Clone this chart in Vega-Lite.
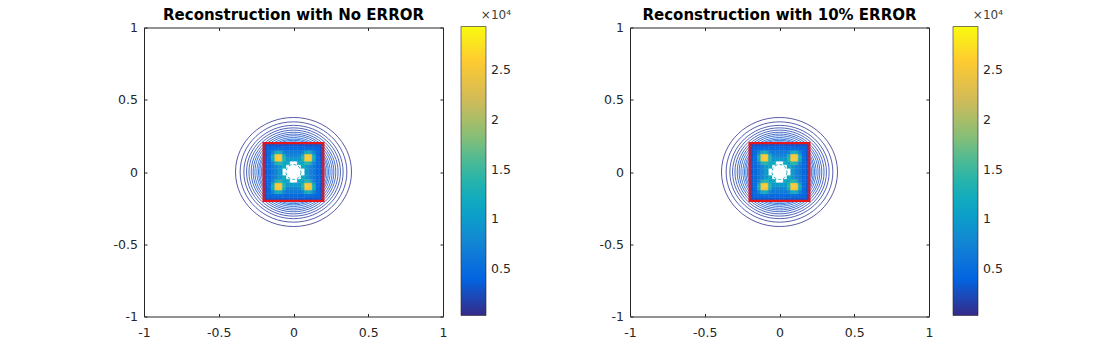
{
"$schema": "https://vega.github.io/schema/vega-lite/v6.json",
"padding": {"left": 112, "top": 6.5, "right": 5, "bottom": 5},
"config": {"font": "DejaVu Sans", "view": {"stroke": "#262626", "strokeWidth": 1}},
"datasets": {
"contours": [
{"x":0,"y":0,"d":0.776,"v":700},{"x":0,"y":0,"d":0.714,"v":1000},{"x":0,"y":0,"d":0.664,"v":1300},{"x":0,"y":0,"d":0.628,"v":1600},{"x":0,"y":0,"d":0.596,"v":1900},{"x":0,"y":0,"d":0.566,"v":2200},{"x":0,"y":0,"d":0.54,"v":2500},{"x":0,"y":0,"d":0.516,"v":2800},{"x":0,"y":0,"d":0.49,"v":3100},{"x":0,"y":0,"d":0.468,"v":3400},{"x":0,"y":0,"d":0.45,"v":3700},{"x":0,"y":0,"d":0.43,"v":4000},{"x":0,"y":0,"d":0.41,"v":4300}
],
"ring": [{"x":0,"y":0,"d":0.1,"v":12000}],
"box": [{"x":-0.2,"x2":0.2,"y":-0.2,"y2":0.2}],
"heat": [
{"x":-0.2,"x2":-0.175,"y":-0.2,"y2":-0.175,"v":2800},{"x":-0.175,"x2":-0.15,"y":-0.2,"y2":-0.175,"v":3200},{"x":-0.15,"x2":-0.125,"y":-0.2,"y2":-0.175,"v":3300},{"x":-0.125,"x2":-0.1,"y":-0.2,"y2":-0.175,"v":3300},{"x":-0.1,"x2":-0.075,"y":-0.2,"y2":-0.175,"v":3300},{"x":-0.075,"x2":-0.05,"y":-0.2,"y2":-0.175,"v":3300},{"x":-0.05,"x2":-0.025,"y":-0.2,"y2":-0.175,"v":3300},{"x":-0.025,"x2":0,"y":-0.2,"y2":-0.175,"v":3300},{"x":0,"x2":0.025,"y":-0.2,"y2":-0.175,"v":3300},{"x":0.025,"x2":0.05,"y":-0.2,"y2":-0.175,"v":3300},{"x":0.05,"x2":0.075,"y":-0.2,"y2":-0.175,"v":3300},{"x":0.075,"x2":0.1,"y":-0.2,"y2":-0.175,"v":3300},{"x":0.1,"x2":0.125,"y":-0.2,"y2":-0.175,"v":3300},{"x":0.125,"x2":0.15,"y":-0.2,"y2":-0.175,"v":3300},{"x":0.15,"x2":0.175,"y":-0.2,"y2":-0.175,"v":3200},{"x":0.175,"x2":0.2,"y":-0.2,"y2":-0.175,"v":2800},
{"x":-0.2,"x2":-0.175,"y":-0.175,"y2":-0.15,"v":3200},{"x":-0.175,"x2":-0.15,"y":-0.175,"y2":-0.15,"v":4500},{"x":-0.15,"x2":-0.125,"y":-0.175,"y2":-0.15,"v":4750},{"x":-0.125,"x2":-0.1,"y":-0.175,"y2":-0.15,"v":4850},{"x":-0.1,"x2":-0.075,"y":-0.175,"y2":-0.15,"v":4850},{"x":-0.075,"x2":-0.05,"y":-0.175,"y2":-0.15,"v":4750},{"x":-0.05,"x2":-0.025,"y":-0.175,"y2":-0.15,"v":4700},{"x":-0.025,"x2":0,"y":-0.175,"y2":-0.15,"v":4700},{"x":0,"x2":0.025,"y":-0.175,"y2":-0.15,"v":4700},{"x":0.025,"x2":0.05,"y":-0.175,"y2":-0.15,"v":4700},{"x":0.05,"x2":0.075,"y":-0.175,"y2":-0.15,"v":4750},{"x":0.075,"x2":0.1,"y":-0.175,"y2":-0.15,"v":4850},{"x":0.1,"x2":0.125,"y":-0.175,"y2":-0.15,"v":4850},{"x":0.125,"x2":0.15,"y":-0.175,"y2":-0.15,"v":4750},{"x":0.15,"x2":0.175,"y":-0.175,"y2":-0.15,"v":4500},{"x":0.175,"x2":0.2,"y":-0.175,"y2":-0.15,"v":3200},
{"x":-0.2,"x2":-0.175,"y":-0.15,"y2":-0.125,"v":3300},{"x":-0.175,"x2":-0.15,"y":-0.15,"y2":-0.125,"v":4750},{"x":-0.15,"x2":-0.125,"y":-0.15,"y2":-0.125,"v":7130},{"x":-0.125,"x2":-0.1,"y":-0.15,"y2":-0.125,"v":12000},{"x":-0.1,"x2":-0.075,"y":-0.15,"y2":-0.125,"v":12000},{"x":-0.075,"x2":-0.05,"y":-0.15,"y2":-0.125,"v":7130},{"x":-0.05,"x2":-0.025,"y":-0.15,"y2":-0.125,"v":6340},{"x":-0.025,"x2":0,"y":-0.15,"y2":-0.125,"v":6300},{"x":0,"x2":0.025,"y":-0.15,"y2":-0.125,"v":6300},{"x":0.025,"x2":0.05,"y":-0.15,"y2":-0.125,"v":6340},{"x":0.05,"x2":0.075,"y":-0.15,"y2":-0.125,"v":7130},{"x":0.075,"x2":0.1,"y":-0.15,"y2":-0.125,"v":12000},{"x":0.1,"x2":0.125,"y":-0.15,"y2":-0.125,"v":12000},{"x":0.125,"x2":0.15,"y":-0.15,"y2":-0.125,"v":7130},{"x":0.15,"x2":0.175,"y":-0.15,"y2":-0.125,"v":4750},{"x":0.175,"x2":0.2,"y":-0.15,"y2":-0.125,"v":3300},
{"x":-0.2,"x2":-0.175,"y":-0.125,"y2":-0.1,"v":3300},{"x":-0.175,"x2":-0.15,"y":-0.125,"y2":-0.1,"v":4850},{"x":-0.15,"x2":-0.125,"y":-0.125,"y2":-0.1,"v":12000},{"x":-0.125,"x2":-0.1,"y":-0.125,"y2":-0.1,"v":25000},{"x":-0.1,"x2":-0.075,"y":-0.125,"y2":-0.1,"v":25500},{"x":-0.075,"x2":-0.05,"y":-0.125,"y2":-0.1,"v":13000},{"x":-0.05,"x2":-0.025,"y":-0.125,"y2":-0.1,"v":7700},{"x":-0.025,"x2":0,"y":-0.125,"y2":-0.1,"v":7500},{"x":0,"x2":0.025,"y":-0.125,"y2":-0.1,"v":7500},{"x":0.025,"x2":0.05,"y":-0.125,"y2":-0.1,"v":7700},{"x":0.05,"x2":0.075,"y":-0.125,"y2":-0.1,"v":13000},{"x":0.075,"x2":0.1,"y":-0.125,"y2":-0.1,"v":25500},{"x":0.1,"x2":0.125,"y":-0.125,"y2":-0.1,"v":25000},{"x":0.125,"x2":0.15,"y":-0.125,"y2":-0.1,"v":12000},{"x":0.15,"x2":0.175,"y":-0.125,"y2":-0.1,"v":4850},{"x":0.175,"x2":0.2,"y":-0.125,"y2":-0.1,"v":3300},
{"x":-0.2,"x2":-0.175,"y":-0.1,"y2":-0.075,"v":3300},{"x":-0.175,"x2":-0.15,"y":-0.1,"y2":-0.075,"v":4850},{"x":-0.15,"x2":-0.125,"y":-0.1,"y2":-0.075,"v":12000},{"x":-0.125,"x2":-0.1,"y":-0.1,"y2":-0.075,"v":25500},{"x":-0.1,"x2":-0.075,"y":-0.1,"y2":-0.075,"v":26000},{"x":-0.075,"x2":-0.05,"y":-0.1,"y2":-0.075,"v":14000},{"x":-0.05,"x2":-0.025,"y":-0.1,"y2":-0.075,"v":9800},{"x":-0.025,"x2":0,"y":-0.1,"y2":-0.075,"v":10000},{"x":0,"x2":0.025,"y":-0.1,"y2":-0.075,"v":10000},{"x":0.025,"x2":0.05,"y":-0.1,"y2":-0.075,"v":9800},{"x":0.05,"x2":0.075,"y":-0.1,"y2":-0.075,"v":14000},{"x":0.075,"x2":0.1,"y":-0.1,"y2":-0.075,"v":26000},{"x":0.1,"x2":0.125,"y":-0.1,"y2":-0.075,"v":25500},{"x":0.125,"x2":0.15,"y":-0.1,"y2":-0.075,"v":12000},{"x":0.15,"x2":0.175,"y":-0.1,"y2":-0.075,"v":4850},{"x":0.175,"x2":0.2,"y":-0.1,"y2":-0.075,"v":3300},
{"x":-0.2,"x2":-0.175,"y":-0.075,"y2":-0.05,"v":3300},{"x":-0.175,"x2":-0.15,"y":-0.075,"y2":-0.05,"v":4750},{"x":-0.15,"x2":-0.125,"y":-0.075,"y2":-0.05,"v":7130},{"x":-0.125,"x2":-0.1,"y":-0.075,"y2":-0.05,"v":13000},{"x":-0.1,"x2":-0.075,"y":-0.075,"y2":-0.05,"v":14000},{"x":-0.075,"x2":-0.05,"y":-0.075,"y2":-0.05,"v":11000},{"x":-0.05,"x2":-0.025,"y":-0.075,"y2":-0.05,"v":11800},{"x":0.025,"x2":0.05,"y":-0.075,"y2":-0.05,"v":11800},{"x":0.05,"x2":0.075,"y":-0.075,"y2":-0.05,"v":11000},{"x":0.075,"x2":0.1,"y":-0.075,"y2":-0.05,"v":14000},{"x":0.1,"x2":0.125,"y":-0.075,"y2":-0.05,"v":13000},{"x":0.125,"x2":0.15,"y":-0.075,"y2":-0.05,"v":7130},{"x":0.15,"x2":0.175,"y":-0.075,"y2":-0.05,"v":4750},{"x":0.175,"x2":0.2,"y":-0.075,"y2":-0.05,"v":3300},
{"x":-0.2,"x2":-0.175,"y":-0.05,"y2":-0.025,"v":3300},{"x":-0.175,"x2":-0.15,"y":-0.05,"y2":-0.025,"v":4700},{"x":-0.15,"x2":-0.125,"y":-0.05,"y2":-0.025,"v":6340},{"x":-0.125,"x2":-0.1,"y":-0.05,"y2":-0.025,"v":7700},{"x":-0.1,"x2":-0.075,"y":-0.05,"y2":-0.025,"v":9800},{"x":-0.075,"x2":-0.05,"y":-0.05,"y2":-0.025,"v":11800},{"x":0.05,"x2":0.075,"y":-0.05,"y2":-0.025,"v":11800},{"x":0.075,"x2":0.1,"y":-0.05,"y2":-0.025,"v":9800},{"x":0.1,"x2":0.125,"y":-0.05,"y2":-0.025,"v":7700},{"x":0.125,"x2":0.15,"y":-0.05,"y2":-0.025,"v":6340},{"x":0.15,"x2":0.175,"y":-0.05,"y2":-0.025,"v":4700},{"x":0.175,"x2":0.2,"y":-0.05,"y2":-0.025,"v":3300},
{"x":-0.2,"x2":-0.175,"y":-0.025,"y2":0,"v":3300},{"x":-0.175,"x2":-0.15,"y":-0.025,"y2":0,"v":4700},{"x":-0.15,"x2":-0.125,"y":-0.025,"y2":0,"v":6300},{"x":-0.125,"x2":-0.1,"y":-0.025,"y2":0,"v":7500},{"x":-0.1,"x2":-0.075,"y":-0.025,"y2":0,"v":10000},{"x":0.075,"x2":0.1,"y":-0.025,"y2":0,"v":10000},{"x":0.1,"x2":0.125,"y":-0.025,"y2":0,"v":7500},{"x":0.125,"x2":0.15,"y":-0.025,"y2":0,"v":6300},{"x":0.15,"x2":0.175,"y":-0.025,"y2":0,"v":4700},{"x":0.175,"x2":0.2,"y":-0.025,"y2":0,"v":3300},
{"x":-0.2,"x2":-0.175,"y":0,"y2":0.025,"v":3300},{"x":-0.175,"x2":-0.15,"y":0,"y2":0.025,"v":4700},{"x":-0.15,"x2":-0.125,"y":0,"y2":0.025,"v":6300},{"x":-0.125,"x2":-0.1,"y":0,"y2":0.025,"v":7500},{"x":-0.1,"x2":-0.075,"y":0,"y2":0.025,"v":10000},{"x":0.075,"x2":0.1,"y":0,"y2":0.025,"v":10000},{"x":0.1,"x2":0.125,"y":0,"y2":0.025,"v":7500},{"x":0.125,"x2":0.15,"y":0,"y2":0.025,"v":6300},{"x":0.15,"x2":0.175,"y":0,"y2":0.025,"v":4700},{"x":0.175,"x2":0.2,"y":0,"y2":0.025,"v":3300},
{"x":-0.2,"x2":-0.175,"y":0.025,"y2":0.05,"v":3300},{"x":-0.175,"x2":-0.15,"y":0.025,"y2":0.05,"v":4700},{"x":-0.15,"x2":-0.125,"y":0.025,"y2":0.05,"v":6340},{"x":-0.125,"x2":-0.1,"y":0.025,"y2":0.05,"v":7700},{"x":-0.1,"x2":-0.075,"y":0.025,"y2":0.05,"v":9800},{"x":-0.075,"x2":-0.05,"y":0.025,"y2":0.05,"v":11800},{"x":0.05,"x2":0.075,"y":0.025,"y2":0.05,"v":11800},{"x":0.075,"x2":0.1,"y":0.025,"y2":0.05,"v":9800},{"x":0.1,"x2":0.125,"y":0.025,"y2":0.05,"v":7700},{"x":0.125,"x2":0.15,"y":0.025,"y2":0.05,"v":6340},{"x":0.15,"x2":0.175,"y":0.025,"y2":0.05,"v":4700},{"x":0.175,"x2":0.2,"y":0.025,"y2":0.05,"v":3300},
{"x":-0.2,"x2":-0.175,"y":0.05,"y2":0.075,"v":3300},{"x":-0.175,"x2":-0.15,"y":0.05,"y2":0.075,"v":4750},{"x":-0.15,"x2":-0.125,"y":0.05,"y2":0.075,"v":7130},{"x":-0.125,"x2":-0.1,"y":0.05,"y2":0.075,"v":13000},{"x":-0.1,"x2":-0.075,"y":0.05,"y2":0.075,"v":14000},{"x":-0.075,"x2":-0.05,"y":0.05,"y2":0.075,"v":11000},{"x":-0.05,"x2":-0.025,"y":0.05,"y2":0.075,"v":11800},{"x":0.025,"x2":0.05,"y":0.05,"y2":0.075,"v":11800},{"x":0.05,"x2":0.075,"y":0.05,"y2":0.075,"v":11000},{"x":0.075,"x2":0.1,"y":0.05,"y2":0.075,"v":14000},{"x":0.1,"x2":0.125,"y":0.05,"y2":0.075,"v":13000},{"x":0.125,"x2":0.15,"y":0.05,"y2":0.075,"v":7130},{"x":0.15,"x2":0.175,"y":0.05,"y2":0.075,"v":4750},{"x":0.175,"x2":0.2,"y":0.05,"y2":0.075,"v":3300},
{"x":-0.2,"x2":-0.175,"y":0.075,"y2":0.1,"v":3300},{"x":-0.175,"x2":-0.15,"y":0.075,"y2":0.1,"v":4850},{"x":-0.15,"x2":-0.125,"y":0.075,"y2":0.1,"v":12000},{"x":-0.125,"x2":-0.1,"y":0.075,"y2":0.1,"v":25500},{"x":-0.1,"x2":-0.075,"y":0.075,"y2":0.1,"v":26000},{"x":-0.075,"x2":-0.05,"y":0.075,"y2":0.1,"v":14000},{"x":-0.05,"x2":-0.025,"y":0.075,"y2":0.1,"v":9800},{"x":-0.025,"x2":0,"y":0.075,"y2":0.1,"v":10000},{"x":0,"x2":0.025,"y":0.075,"y2":0.1,"v":10000},{"x":0.025,"x2":0.05,"y":0.075,"y2":0.1,"v":9800},{"x":0.05,"x2":0.075,"y":0.075,"y2":0.1,"v":14000},{"x":0.075,"x2":0.1,"y":0.075,"y2":0.1,"v":26000},{"x":0.1,"x2":0.125,"y":0.075,"y2":0.1,"v":25500},{"x":0.125,"x2":0.15,"y":0.075,"y2":0.1,"v":12000},{"x":0.15,"x2":0.175,"y":0.075,"y2":0.1,"v":4850},{"x":0.175,"x2":0.2,"y":0.075,"y2":0.1,"v":3300},
{"x":-0.2,"x2":-0.175,"y":0.1,"y2":0.125,"v":3300},{"x":-0.175,"x2":-0.15,"y":0.1,"y2":0.125,"v":4850},{"x":-0.15,"x2":-0.125,"y":0.1,"y2":0.125,"v":12000},{"x":-0.125,"x2":-0.1,"y":0.1,"y2":0.125,"v":25000},{"x":-0.1,"x2":-0.075,"y":0.1,"y2":0.125,"v":25500},{"x":-0.075,"x2":-0.05,"y":0.1,"y2":0.125,"v":13000},{"x":-0.05,"x2":-0.025,"y":0.1,"y2":0.125,"v":7700},{"x":-0.025,"x2":0,"y":0.1,"y2":0.125,"v":7500},{"x":0,"x2":0.025,"y":0.1,"y2":0.125,"v":7500},{"x":0.025,"x2":0.05,"y":0.1,"y2":0.125,"v":7700},{"x":0.05,"x2":0.075,"y":0.1,"y2":0.125,"v":13000},{"x":0.075,"x2":0.1,"y":0.1,"y2":0.125,"v":25500},{"x":0.1,"x2":0.125,"y":0.1,"y2":0.125,"v":25000},{"x":0.125,"x2":0.15,"y":0.1,"y2":0.125,"v":12000},{"x":0.15,"x2":0.175,"y":0.1,"y2":0.125,"v":4850},{"x":0.175,"x2":0.2,"y":0.1,"y2":0.125,"v":3300},
{"x":-0.2,"x2":-0.175,"y":0.125,"y2":0.15,"v":3300},{"x":-0.175,"x2":-0.15,"y":0.125,"y2":0.15,"v":4750},{"x":-0.15,"x2":-0.125,"y":0.125,"y2":0.15,"v":7130},{"x":-0.125,"x2":-0.1,"y":0.125,"y2":0.15,"v":12000},{"x":-0.1,"x2":-0.075,"y":0.125,"y2":0.15,"v":12000},{"x":-0.075,"x2":-0.05,"y":0.125,"y2":0.15,"v":7130},{"x":-0.05,"x2":-0.025,"y":0.125,"y2":0.15,"v":6340},{"x":-0.025,"x2":0,"y":0.125,"y2":0.15,"v":6300},{"x":0,"x2":0.025,"y":0.125,"y2":0.15,"v":6300},{"x":0.025,"x2":0.05,"y":0.125,"y2":0.15,"v":6340},{"x":0.05,"x2":0.075,"y":0.125,"y2":0.15,"v":7130},{"x":0.075,"x2":0.1,"y":0.125,"y2":0.15,"v":12000},{"x":0.1,"x2":0.125,"y":0.125,"y2":0.15,"v":12000},{"x":0.125,"x2":0.15,"y":0.125,"y2":0.15,"v":7130},{"x":0.15,"x2":0.175,"y":0.125,"y2":0.15,"v":4750},{"x":0.175,"x2":0.2,"y":0.125,"y2":0.15,"v":3300},
{"x":-0.2,"x2":-0.175,"y":0.15,"y2":0.175,"v":3200},{"x":-0.175,"x2":-0.15,"y":0.15,"y2":0.175,"v":4500},{"x":-0.15,"x2":-0.125,"y":0.15,"y2":0.175,"v":4750},{"x":-0.125,"x2":-0.1,"y":0.15,"y2":0.175,"v":4850},{"x":-0.1,"x2":-0.075,"y":0.15,"y2":0.175,"v":4850},{"x":-0.075,"x2":-0.05,"y":0.15,"y2":0.175,"v":4750},{"x":-0.05,"x2":-0.025,"y":0.15,"y2":0.175,"v":4700},{"x":-0.025,"x2":0,"y":0.15,"y2":0.175,"v":4700},{"x":0,"x2":0.025,"y":0.15,"y2":0.175,"v":4700},{"x":0.025,"x2":0.05,"y":0.15,"y2":0.175,"v":4700},{"x":0.05,"x2":0.075,"y":0.15,"y2":0.175,"v":4750},{"x":0.075,"x2":0.1,"y":0.15,"y2":0.175,"v":4850},{"x":0.1,"x2":0.125,"y":0.15,"y2":0.175,"v":4850},{"x":0.125,"x2":0.15,"y":0.15,"y2":0.175,"v":4750},{"x":0.15,"x2":0.175,"y":0.15,"y2":0.175,"v":4500},{"x":0.175,"x2":0.2,"y":0.15,"y2":0.175,"v":3200},
{"x":-0.2,"x2":-0.175,"y":0.175,"y2":0.2,"v":2800},{"x":-0.175,"x2":-0.15,"y":0.175,"y2":0.2,"v":3200},{"x":-0.15,"x2":-0.125,"y":0.175,"y2":0.2,"v":3300},{"x":-0.125,"x2":-0.1,"y":0.175,"y2":0.2,"v":3300},{"x":-0.1,"x2":-0.075,"y":0.175,"y2":0.2,"v":3300},{"x":-0.075,"x2":-0.05,"y":0.175,"y2":0.2,"v":3300},{"x":-0.05,"x2":-0.025,"y":0.175,"y2":0.2,"v":3300},{"x":-0.025,"x2":0,"y":0.175,"y2":0.2,"v":3300},{"x":0,"x2":0.025,"y":0.175,"y2":0.2,"v":3300},{"x":0.025,"x2":0.05,"y":0.175,"y2":0.2,"v":3300},{"x":0.05,"x2":0.075,"y":0.175,"y2":0.2,"v":3300},{"x":0.075,"x2":0.1,"y":0.175,"y2":0.2,"v":3300},{"x":0.1,"x2":0.125,"y":0.175,"y2":0.2,"v":3300},{"x":0.125,"x2":0.15,"y":0.175,"y2":0.2,"v":3300},{"x":0.15,"x2":0.175,"y":0.175,"y2":0.2,"v":3200},{"x":0.175,"x2":0.2,"y":0.175,"y2":0.2,"v":2800}
]
},
"spacing": 86,
"resolve": {"scale": {"color": "independent"}, "legend": {"color": "independent"}},
"hconcat": [
{
"width": 299, "height": 289,
"title": {"text": "Reconstruction with No ERROR", "fontSize": 15, "fontWeight": "bold", "color": "#000000", "offset": -13},
"resolve": {"axis": {"x": "independent", "y": "independent"}},
"layer": [
{"data": {"name": "contours"},
 "mark": {"type": "point", "shape": "M1,0C1,0.519,0.552,0.94,0,0.94C-0.552,0.94,-1,0.519,-1,0C-1,-0.519,-0.552,-0.94,0,-0.94C0.552,-0.94,1,-0.519,1,0Z", "filled": false, "opacity": 1, "strokeWidth": 0.8},
 "encoding": {
  "x": {"field": "x", "type": "quantitative", "scale": {"domain": [-1, 1], "nice": false, "zero": false}, "axis": {"orient": "bottom", "values": [-1, -0.5, 0, 0.5, 1], "labelExpr": "(datum.value < 0 ? '-' : '') + abs(datum.value)", "title": null, "domain": false, "grid": false, "tickSize": -3, "labelPadding": 13, "labelFontSize": 12.5, "labelColor": "#262626", "tickColor": "#262626", "labelFlush": false, "labelOverlap": false}},
  "y": {"field": "y", "type": "quantitative", "scale": {"domain": [-1, 1], "nice": false, "zero": false}, "axis": {"orient": "left", "values": [-1, -0.5, 0, 0.5, 1], "labelExpr": "(datum.value < 0 ? '-' : '') + abs(datum.value)", "title": null, "domain": false, "grid": false, "tickSize": -3, "labelPadding": 9.5, "labelFontSize": 12.5, "labelColor": "#262626", "tickColor": "#262626", "labelFlush": false, "labelOverlap": false, "minExtent": 0}},
  "size": {"field": "d", "type": "quantitative", "scale": {"type": "pow", "exponent": 2, "domain": [0, 1], "range": [0, 22350]}, "legend": null},
  "stroke": {"field": "v", "type": "quantitative", "scale": {"type": "linear", "domain": [300, 3937.5, 7575, 11212.5, 14850, 18487.5, 22125, 25762.5, 29400], "range": ["#352a87", "#0363e1", "#1485d4", "#06a7c6", "#33b8a1", "#8cbf74", "#d2bb58", "#fec932", "#f9fb0e"], "interpolate": "rgb"}, "legend": null}
 }},
{"data": {"name": "heat"},
 "mark": {"type": "rect", "strokeWidth": 0.4},
 "encoding": {
  "x": {"field": "x", "type": "quantitative", "scale": {"domain": [-1, 1], "nice": false, "zero": false}, "axis": null},
  "x2": {"field": "x2"},
  "y": {"field": "y", "type": "quantitative", "scale": {"domain": [-1, 1], "nice": false, "zero": false}, "axis": null},
  "y2": {"field": "y2"},
  "color": {"field": "v", "type": "quantitative", "scale": {"type": "linear", "domain": [300, 3937.5, 7575, 11212.5, 14850, 18487.5, 22125, 25762.5, 29400], "range": ["#352a87", "#0363e1", "#1485d4", "#06a7c6", "#33b8a1", "#8cbf74", "#d2bb58", "#fec932", "#f9fb0e"], "interpolate": "rgb"}, "legend": {"type": "gradient", "title": "×10⁴", "orient": "none", "legendX": 317, "legendY": -18, "direction": "vertical", "gradientLength": 289, "gradientThickness": 25, "values": [5000, 10000, 15000, 20000, 25000], "labelExpr": "'' + datum.value / 10000", "titleFontWeight": "normal", "titleFontSize": 12, "titleColor": "#404040", "titleAnchor": "end", "titlePadding": 5, "labelFontSize": 12.5, "labelColor": "#262626", "labelOffset": 5, "labelOverlap": false, "gradientStrokeColor": "#262626", "gradientStrokeWidth": 0.6}},
  "stroke": {"field": "v", "type": "quantitative", "scale": {"type": "linear", "domain": [300, 3937.5, 7575, 11212.5, 14850, 18487.5, 22125, 25762.5, 29400], "range": ["#352a87", "#0363e1", "#1485d4", "#06a7c6", "#33b8a1", "#8cbf74", "#d2bb58", "#fec932", "#f9fb0e"], "interpolate": "rgb"}, "legend": null}
 }},
{"data": {"name": "box"},
 "mark": {"type": "rect", "filled": false, "stroke": "#e8141c", "strokeWidth": 2.2},
 "encoding": {
  "x": {"field": "x", "type": "quantitative", "scale": {"domain": [-1, 1], "nice": false, "zero": false}, "axis": {"orient": "top", "values": [-1, -0.5, 0, 0.5, 1], "labels": false, "title": null, "domain": false, "grid": false, "tickSize": -3, "tickColor": "#262626", "minExtent": 0}},
  "x2": {"field": "x2"},
  "y": {"field": "y", "type": "quantitative", "scale": {"domain": [-1, 1], "nice": false, "zero": false}, "axis": {"orient": "right", "values": [-1, -0.5, 0, 0.5, 1], "labels": false, "title": null, "domain": false, "grid": false, "tickSize": -3, "tickColor": "#262626", "minExtent": 0}},
  "y2": {"field": "y2"}
 }},
{"data": {"name": "ring"},
 "mark": {"type": "point", "shape": "circle", "filled": false, "opacity": 1, "strokeWidth": 0.9, "strokeDash": [3, 2]},
 "encoding": {
  "x": {"field": "x", "type": "quantitative", "scale": {"domain": [-1, 1], "nice": false, "zero": false}, "axis": null},
  "y": {"field": "y", "type": "quantitative", "scale": {"domain": [-1, 1], "nice": false, "zero": false}, "axis": null},
  "size": {"field": "d", "type": "quantitative", "scale": {"type": "pow", "exponent": 2, "domain": [0, 1], "range": [0, 22350]}, "legend": null},
  "stroke": {"field": "v", "type": "quantitative", "scale": {"type": "linear", "domain": [300, 3937.5, 7575, 11212.5, 14850, 18487.5, 22125, 25762.5, 29400], "range": ["#352a87", "#0363e1", "#1485d4", "#06a7c6", "#33b8a1", "#8cbf74", "#d2bb58", "#fec932", "#f9fb0e"], "interpolate": "rgb"}, "legend": null}
 }}
]
},
{
"width": 299, "height": 289,
"title": {"text": "Reconstruction with 10% ERROR", "fontSize": 15, "fontWeight": "bold", "color": "#000000", "offset": -13},
"resolve": {"axis": {"x": "independent", "y": "independent"}},
"layer": [
{"data": {"name": "contours"},
 "mark": {"type": "point", "shape": "M1,0C1,0.519,0.552,0.94,0,0.94C-0.552,0.94,-1,0.519,-1,0C-1,-0.519,-0.552,-0.94,0,-0.94C0.552,-0.94,1,-0.519,1,0Z", "filled": false, "opacity": 1, "strokeWidth": 0.8},
 "encoding": {
  "x": {"field": "x", "type": "quantitative", "scale": {"domain": [-1, 1], "nice": false, "zero": false}, "axis": {"orient": "bottom", "values": [-1, -0.5, 0, 0.5, 1], "labelExpr": "(datum.value < 0 ? '-' : '') + abs(datum.value)", "title": null, "domain": false, "grid": false, "tickSize": -3, "labelPadding": 13, "labelFontSize": 12.5, "labelColor": "#262626", "tickColor": "#262626", "labelFlush": false, "labelOverlap": false}},
  "y": {"field": "y", "type": "quantitative", "scale": {"domain": [-1, 1], "nice": false, "zero": false}, "axis": {"orient": "left", "values": [-1, -0.5, 0, 0.5, 1], "labelExpr": "(datum.value < 0 ? '-' : '') + abs(datum.value)", "title": null, "domain": false, "grid": false, "tickSize": -3, "labelPadding": 9.5, "labelFontSize": 12.5, "labelColor": "#262626", "tickColor": "#262626", "labelFlush": false, "labelOverlap": false, "minExtent": 0}},
  "size": {"field": "d", "type": "quantitative", "scale": {"type": "pow", "exponent": 2, "domain": [0, 1], "range": [0, 22350]}, "legend": null},
  "stroke": {"field": "v", "type": "quantitative", "scale": {"type": "linear", "domain": [300, 3937.5, 7575, 11212.5, 14850, 18487.5, 22125, 25762.5, 29400], "range": ["#352a87", "#0363e1", "#1485d4", "#06a7c6", "#33b8a1", "#8cbf74", "#d2bb58", "#fec932", "#f9fb0e"], "interpolate": "rgb"}, "legend": null}
 }},
{"data": {"name": "heat"},
 "mark": {"type": "rect", "strokeWidth": 0.4},
 "encoding": {
  "x": {"field": "x", "type": "quantitative", "scale": {"domain": [-1, 1], "nice": false, "zero": false}, "axis": null},
  "x2": {"field": "x2"},
  "y": {"field": "y", "type": "quantitative", "scale": {"domain": [-1, 1], "nice": false, "zero": false}, "axis": null},
  "y2": {"field": "y2"},
  "color": {"field": "v", "type": "quantitative", "scale": {"type": "linear", "domain": [300, 3937.5, 7575, 11212.5, 14850, 18487.5, 22125, 25762.5, 29400], "range": ["#352a87", "#0363e1", "#1485d4", "#06a7c6", "#33b8a1", "#8cbf74", "#d2bb58", "#fec932", "#f9fb0e"], "interpolate": "rgb"}, "legend": {"type": "gradient", "title": "×10⁴", "orient": "none", "legendX": 323, "legendY": -18, "direction": "vertical", "gradientLength": 289, "gradientThickness": 25, "values": [5000, 10000, 15000, 20000, 25000], "labelExpr": "'' + datum.value / 10000", "titleFontWeight": "normal", "titleFontSize": 12, "titleColor": "#404040", "titleAnchor": "end", "titlePadding": 5, "labelFontSize": 12.5, "labelColor": "#262626", "labelOffset": 5, "labelOverlap": false, "gradientStrokeColor": "#262626", "gradientStrokeWidth": 0.6}},
  "stroke": {"field": "v", "type": "quantitative", "scale": {"type": "linear", "domain": [300, 3937.5, 7575, 11212.5, 14850, 18487.5, 22125, 25762.5, 29400], "range": ["#352a87", "#0363e1", "#1485d4", "#06a7c6", "#33b8a1", "#8cbf74", "#d2bb58", "#fec932", "#f9fb0e"], "interpolate": "rgb"}, "legend": null}
 }},
{"data": {"name": "box"},
 "mark": {"type": "rect", "filled": false, "stroke": "#e8141c", "strokeWidth": 2.2},
 "encoding": {
  "x": {"field": "x", "type": "quantitative", "scale": {"domain": [-1, 1], "nice": false, "zero": false}, "axis": {"orient": "top", "values": [-1, -0.5, 0, 0.5, 1], "labels": false, "title": null, "domain": false, "grid": false, "tickSize": -3, "tickColor": "#262626", "minExtent": 0}},
  "x2": {"field": "x2"},
  "y": {"field": "y", "type": "quantitative", "scale": {"domain": [-1, 1], "nice": false, "zero": false}, "axis": {"orient": "right", "values": [-1, -0.5, 0, 0.5, 1], "labels": false, "title": null, "domain": false, "grid": false, "tickSize": -3, "tickColor": "#262626", "minExtent": 0}},
  "y2": {"field": "y2"}
 }},
{"data": {"name": "ring"},
 "mark": {"type": "point", "shape": "circle", "filled": false, "opacity": 1, "strokeWidth": 0.9, "strokeDash": [3, 2]},
 "encoding": {
  "x": {"field": "x", "type": "quantitative", "scale": {"domain": [-1, 1], "nice": false, "zero": false}, "axis": null},
  "y": {"field": "y", "type": "quantitative", "scale": {"domain": [-1, 1], "nice": false, "zero": false}, "axis": null},
  "size": {"field": "d", "type": "quantitative", "scale": {"type": "pow", "exponent": 2, "domain": [0, 1], "range": [0, 22350]}, "legend": null},
  "stroke": {"field": "v", "type": "quantitative", "scale": {"type": "linear", "domain": [300, 3937.5, 7575, 11212.5, 14850, 18487.5, 22125, 25762.5, 29400], "range": ["#352a87", "#0363e1", "#1485d4", "#06a7c6", "#33b8a1", "#8cbf74", "#d2bb58", "#fec932", "#f9fb0e"], "interpolate": "rgb"}, "legend": null}
 }}
]
}
]
}
